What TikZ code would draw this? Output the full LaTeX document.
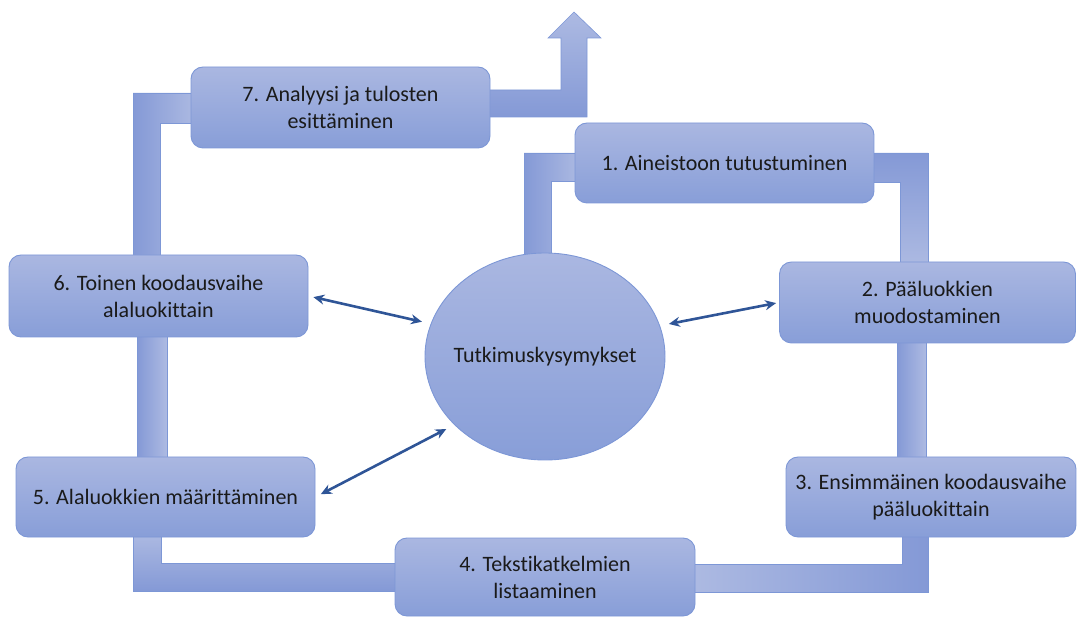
\documentclass[tikz,border=0pt]{standalone}
\usepackage{fontspec}
\setmainfont[Ligatures={NoCommon}]{Carlito}
\usetikzlibrary{arrows.meta,shapes.geometric}
\definecolor{boxTop}{HTML}{AAB7E1}
\definecolor{boxBot}{HTML}{889ED8}
\definecolor{boxLine}{HTML}{7D97D6}
\definecolor{barDark}{HTML}{8499D6}
\definecolor{barLight}{HTML}{ADBAE2}
\definecolor{arrowBlue}{HTML}{2F5597}
\definecolor{txt}{HTML}{1A1A1A}
\tikzset{
  stepbox/.style={rectangle, rounded corners=12pt, top color=boxTop, bottom color=boxBot,
    draw=boxLine, line width=0.9pt, inner sep=0pt, align=center, text=txt,
    font=\fontsize{22}{27}\selectfont},
  centre/.style={ellipse, top color=boxTop, bottom color=boxBot,
    draw=boxLine, line width=0.9pt, inner sep=0pt, text=txt,
    font=\fontsize{22}{27}\selectfont},
  bar/.style={draw=boxLine, line width=0.6pt},
  dbl/.style={draw=arrowBlue, line width=2.6pt, {Stealth[length=11pt,width=10pt]}-{Stealth[length=11pt,width=10pt]}}
}
\begin{document}
\begin{tikzpicture}[x=1pt,y=-1pt]
\useasboundingbox (0,0) rectangle (1077,617);
% block connectors
\shade[left color=barDark, right color=barLight] (580,153) -- (524,153) -- (524,258) -- (551,258) -- (551,181) -- (580,181) -- cycle;
\draw[bar] (580,153) -- (524,153) -- (524,258) -- (551,258) -- (551,181) -- (580,181);
\shade[top color=barDark, bottom color=barLight] (870,153) -- (928,153) -- (928,266) -- (900,266) -- (900,182) -- (870,182) -- cycle;
\draw[bar] (870,153) -- (928,153) -- (928,266) (900,266) -- (900,182) -- (870,182);
\shade[left color=barDark, right color=barLight] (897,339) rectangle (926,461);
\draw[bar] (897,339) -- (897,461) (926,339) -- (926,461);
\shade[left color=barLight, right color=barDark] (902,533) -- (902,564) -- (690,564) -- (690,592) -- (928,592) -- (928,533) -- cycle;
\draw[bar] (902,533) -- (902,564) -- (690,564) (690,592) -- (928,592) -- (928,533);
\shade[top color=barLight, bottom color=barDark] (133,533) -- (133,591) -- (400,591) -- (400,563) -- (161,563) -- (161,533) -- cycle;
\draw[bar] (133,533) -- (133,591) -- (400,591) (400,563) -- (161,563) -- (161,533);
\shade[left color=barDark, right color=barLight] (137,333) rectangle (167,461);
\draw[bar] (137,333) -- (137,461) (167,333) -- (167,461);
\shade[left color=barDark, right color=barLight] (133,259) -- (133,93) -- (196,93) -- (196,123) -- (160,123) -- (160,259) -- cycle;
\draw[bar] (133,259) -- (133,93) -- (196,93) (196,123) -- (160,123) -- (160,259);
\shade[top color=barLight, bottom color=barDark] (486,90) -- (561,90) -- (561,38) -- (548,38) -- (574,12) -- (601,38) -- (587,38) -- (587,117) -- (486,117) -- cycle;
\draw[bar] (486,90) -- (561,90) -- (561,38) -- (548,38) -- (574,12) -- (601,38) -- (587,38) -- (587,117) -- (486,117);
% nodes
\node[stepbox, minimum width=299pt, minimum height=81pt] (b7) at (340.5,107.5) {7. Analyysi ja tulosten\\esittäminen};
\node[stepbox, minimum width=299pt, minimum height=80pt] (b1) at (724.5,163) {1. Aineistoon tutustuminen};
\node[stepbox, minimum width=296pt, minimum height=81pt] (b2) at (927.5,302.5) {2. Pääluokkien\\muodostaminen};
\node[stepbox, minimum width=290pt, minimum height=80pt] (b3) at (931,497) {3. Ensimmäinen koodausvaihe\\pääluokittain};
\node[stepbox, minimum width=300pt, minimum height=78pt] (b4) at (545,577) {4. Tekstikatkelmien\\listaaminen};
\node[stepbox, minimum width=299pt, minimum height=80pt] (b5) at (165.5,497) {5. Alaluokkien määrittäminen};
\node[stepbox, minimum width=299pt, minimum height=82pt] (b6) at (158.5,296) {6. Toinen koodausvaihe\\alaluokittain};
\node[centre, minimum width=240pt, minimum height=207pt] (ell) at (545,356.5) {\makebox[0pt]{Tutkimuskysymykset}};
% double arrows
\draw[dbl, shorten <=5pt, shorten >=9pt] (b6.east) -- (ell.164);
\draw[dbl, shorten <=9pt, shorten >=3pt] (ell.15) -- (b2.west);
\draw[dbl, shorten <=6pt, shorten >=9pt] (b5.east) -- (ell.217);
\end{tikzpicture}
\end{document}
